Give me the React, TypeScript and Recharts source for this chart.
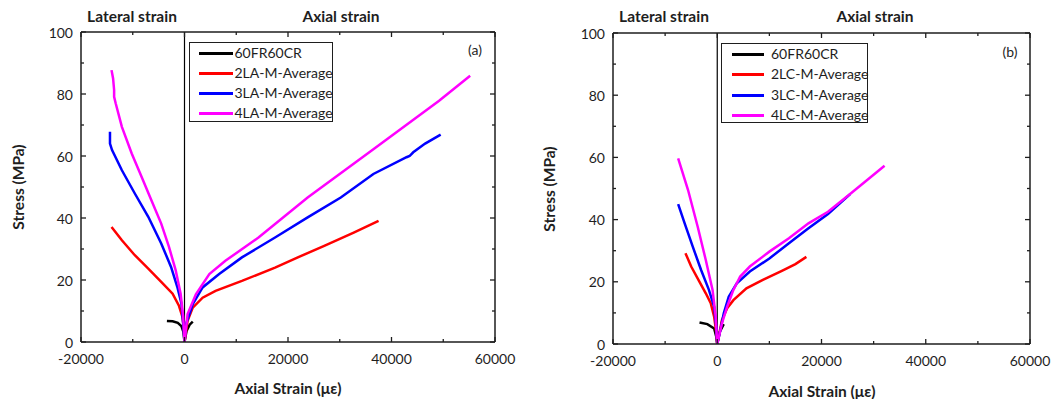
import React from "react"
import { LineChart, Line, XAxis, YAxis, ReferenceLine } from "recharts"

type Pt = [number, number]

// strain (µε), stress (MPa)
// panel (a)
const a60FR60CR: Pt[] = [[-3400, 6.8], [-2300, 6.7], [-1300, 6.2], [-600, 5.1], [-200, 3.2], [0, 0], [400, 3.6], [1000, 5.6], [1600, 6.6]]
const a2LA: Pt[] = [
  [-14100, 37.1], [-12100, 32.8], [-9600, 28.0], [-7000, 23.7], [-4500, 19.4], [-2300, 15.6], [-1100, 11.8], [-400, 8.1], [-100, 3.8], [0, 0],
  [600, 6.8], [1600, 11.1], [3500, 14.3], [6000, 16.5], [11100, 19.7], [17500, 24.0], [21900, 27.3], [27000, 31.0], [32700, 35.3], [37500, 39.1],
]
const a3LA: Pt[] = [
  [-14400, 67.8], [-14400, 64.0], [-14000, 61.9], [-12100, 55.4], [-9600, 47.9], [-7000, 40.4], [-4500, 31.8], [-2600, 24.2], [-1400, 17.8], [-600, 12.4], [-250, 5.9], [0, 0],
  [300, 5.8], [1600, 12.2], [3500, 17.6], [6700, 21.9], [11100, 27.3], [17500, 33.7], [23800, 40.2], [30200, 46.6], [36500, 54.2], [42900, 59.6], [43500, 60.0], [44200, 61.2], [46500, 64.0], [49500, 66.9],
]
const a4LA: Pt[] = [
  [-14100, 87.7], [-13800, 85.0], [-13600, 81.3], [-13600, 79.1], [-13300, 77.0], [-12100, 69.4], [-10200, 60.8], [-8300, 53.3], [-6400, 45.7], [-4500, 38.2], [-3000, 30.7], [-1700, 23.1], [-750, 15.6], [-250, 8.1], [0, 0],
  [600, 9.0], [2200, 15.4], [4800, 21.9], [7900, 26.2], [14300, 33.7], [23800, 46.6], [36500, 62.2], [49200, 77.8], [55200, 85.9],
]

// panel (b)
const b60FR60CR: Pt[] = [[-3400, 6.9], [-1900, 6.4], [-600, 5.0], [-200, 2.4], [0, 0], [500, 4.0], [1250, 6.4]]
const b2LC: Pt[] = [
  [-6100, 29.2], [-5000, 24.9], [-3400, 20.0], [-2200, 16.3], [-1250, 13.1], [-600, 8.8], [-250, 4.5], [0, 0],
  [900, 7.7], [1900, 11.5], [3100, 14.1], [5600, 17.9], [8750, 20.6], [12500, 23.6], [15000, 25.7], [17100, 28.0],
]
const b3LC: Pt[] = [
  [-7500, 45.0], [-6250, 38.8], [-4700, 31.3], [-3100, 23.8], [-1600, 17.4], [-600, 12.0], [-200, 5.6], [0, 0],
  [600, 4.5], [1250, 9.9], [2200, 15.2], [3750, 19.5], [6250, 23.3], [10000, 27.5], [13750, 32.4], [17500, 37.2], [21250, 41.8], [25500, 48.2],
]
const b4LC: Pt[] = [
  [-7500, 59.7], [-5600, 49.5], [-3750, 37.7], [-2200, 27.0], [-900, 17.4], [-300, 8.8], [0, 0],
  [900, 6.6], [1900, 12.0], [3100, 17.4], [4400, 21.7], [6250, 24.9], [10000, 29.7], [13750, 34.0], [17500, 38.8], [21250, 42.5], [25600, 48.4], [32100, 57.3],
]

const xTicks = [-20000, -10000, 0, 10000, 20000, 30000, 40000, 50000, 60000]
const yTicks = [0, 10, 20, 30, 40, 50, 60, 70, 80, 90, 100]
const colors = ["#000000", "#ff0000", "#0000ff", "#ff00ff"]

const FONT = "Lato, 'Open Sans', sans-serif"
const INK = "#1e1e1e"

const toRows = (pts: Pt[]) => pts.map(([e, s]) => ({ e, s }))

const BottomTick = (p: any) => {
  const v = p.payload.value
  const major = v % 20000 === 0
  return (
    <g>
      <line x1={p.x} x2={p.x} y1={p.y} y2={p.y - (major ? 5 : 3)} stroke={INK} strokeWidth={1.3} />
      {major && (
        <text x={p.x} y={p.y + 16} textAnchor="middle" dominantBaseline="central" fontSize={14} fontFamily={FONT} fill={INK}>
          {v}
        </text>
      )}
    </g>
  )
}
const TopTick = (p: any) => {
  const major = p.payload.value % 20000 === 0
  return <line x1={p.x} x2={p.x} y1={p.y} y2={p.y + (major ? 5 : 3)} stroke={INK} strokeWidth={1.3} />
}
const LeftTick = (p: any) => {
  const v = p.payload.value
  const major = v % 20 === 0
  return (
    <g>
      <line x1={p.x} x2={p.x + (major ? 5 : 3)} y1={p.y} y2={p.y} stroke={INK} strokeWidth={1.3} />
      {major && (
        <text x={p.x - 8} y={p.y} textAnchor="end" dominantBaseline="central" fontSize={14} fontFamily={FONT} fill={INK}>
          {v}
        </text>
      )}
    </g>
  )
}
const RightTick = (p: any) => {
  const major = p.payload.value % 20 === 0
  return <line x1={p.x} x2={p.x - (major ? 5 : 3)} y1={p.y} y2={p.y} stroke={INK} strokeWidth={1.3} />
}

function Txt({ x, y, children, bold, size = 15.5, rotate }: { x: number; y: number; children: React.ReactNode; bold?: boolean; size?: number; rotate?: boolean }) {
  return (
    <div
      style={{
        position: "absolute",
        left: x,
        top: y,
        transform: `translate(-50%, -50%)${rotate ? " rotate(-90deg)" : ""}`,
        whiteSpace: "nowrap",
        fontWeight: bold ? 700 : 400,
        fontSize: size,
        fontFamily: FONT,
        color: INK,
        lineHeight: 1,
      }}
    >
      {children}
    </div>
  )
}

function Panel({
  left,
  margin,
  series,
  names,
  tag,
  legend,
  titles,
}: {
  left: number
  margin: { top: number; right: number; bottom: number; left: number }
  series: Pt[][]
  names: string[]
  tag: { text: string; x: number; y: number }
  legend: { x: number; y: number; w: number; h: number; l0: number; l1: number; tx: number; rows: number[] }
  titles: { lat: number; ax: number; ty: number; ylab: [number, number]; xlab: [number, number] }
}) {
  // axes take fixed room; margins make up the rest of the plot offset
  const m = { top: margin.top - 10, right: margin.right - 10, bottom: margin.bottom - 20, left: margin.left - 30 }
  return (
    <div style={{ position: "absolute", left, top: 0, width: 531, height: 399 }}>
      <LineChart width={531} height={399} margin={m}>
        <XAxis
          xAxisId="b"
          type="number"
          dataKey="e"
          domain={[-20000, 60000]}
          ticks={xTicks}
          allowDataOverflow
          height={20}
          tickSize={0}
          tickMargin={0}
          tick={BottomTick}
          axisLine={{ stroke: INK, strokeWidth: 1.5 }}
          interval={0}
        />
        <XAxis
          xAxisId="t"
          orientation="top"
          type="number"
          dataKey="e"
          domain={[-20000, 60000]}
          ticks={xTicks}
          allowDataOverflow
          height={10}
          tickSize={0}
          tickMargin={0}
          tick={TopTick}
          axisLine={{ stroke: INK, strokeWidth: 1.5 }}
          interval={0}
        />
        <YAxis
          yAxisId="l"
          type="number"
          domain={[0, 100]}
          ticks={yTicks}
          allowDataOverflow
          width={30}
          tickSize={0}
          tickMargin={0}
          tick={LeftTick}
          axisLine={{ stroke: INK, strokeWidth: 1.5 }}
          interval={0}
        />
        <YAxis
          yAxisId="r"
          orientation="right"
          type="number"
          domain={[0, 100]}
          ticks={yTicks}
          allowDataOverflow
          width={10}
          tickSize={0}
          tickMargin={0}
          tick={RightTick}
          axisLine={{ stroke: INK, strokeWidth: 1.5 }}
          interval={0}
        />
        <ReferenceLine xAxisId="b" yAxisId="l" x={0} stroke="#000" strokeWidth={1.2} />
        {series.map((pts, i) => (
          <Line
            key={names[i]}
            xAxisId="b"
            yAxisId="l"
            data={toRows(pts)}
            dataKey="s"
            type="linear"
            stroke={colors[i]}
            strokeWidth={2.5}
            dot={false}
            activeDot={false}
            isAnimationActive={false}
          />
        ))}
      </LineChart>

      <Txt x={titles.lat} y={titles.ty} bold>Lateral strain</Txt>
      <Txt x={titles.ax} y={titles.ty} bold>Axial strain</Txt>
      <Txt x={titles.ylab[0]} y={titles.ylab[1]} bold rotate>Stress (MPa)</Txt>
      <Txt x={titles.xlab[0]} y={titles.xlab[1]} bold>Axial Strain (με)</Txt>
      <Txt x={tag.x} y={tag.y} size={14}>{tag.text}</Txt>

      <div
        style={{
          position: "absolute",
          left: legend.x,
          top: legend.y,
          width: legend.w,
          height: legend.h,
          border: `1px solid ${INK}`,
          boxSizing: "border-box",
          background: "#fff",
        }}
      >
        {names.map((n, i) => (
          <div key={n}>
            <div
              style={{
                position: "absolute",
                left: legend.l0,
                width: legend.l1 - legend.l0,
                top: legend.rows[i] - 1,
                height: 2.5,
                background: colors[i],
              }}
            />
            <div
              style={{
                position: "absolute",
                left: legend.tx,
                top: legend.rows[i],
                transform: "translateY(-50%)",
                fontFamily: FONT,
                fontSize: 14,
                color: INK,
                whiteSpace: "nowrap",
                lineHeight: 1,
              }}
            >
              {n}
            </div>
          </div>
        ))}
      </div>
    </div>
  )
}

export default function App() {
  return (
    <div style={{ position: "absolute", left: 0, top: 0, width: 1062, height: 399, background: "#fff", overflow: "hidden" }}>
      <Panel
        left={0}
        margin={{ top: 32, right: 36, bottom: 57, left: 81 }}
        series={[a60FR60CR, a2LA, a3LA, a4LA]}
        names={["60FR60CR", "2LA-M-Average", "3LA-M-Average", "4LA-M-Average"]}
        tag={{ text: "(a)", x: 475, y: 50 }}
        legend={{ x: 189, y: 42, w: 144, h: 80, l0: 9, l1: 43, tx: 44.5, rows: [10, 30, 50, 70] }}
        titles={{ lat: 132, ax: 341, ty: 17, ylab: [19, 187], xlab: [288, 389] }}
      />
      <Panel
        left={531}
        margin={{ top: 33, right: 32, bottom: 55, left: 82 }}
        series={[b60FR60CR, b2LC, b3LC, b4LC]}
        names={["60FR60CR", "2LC-M-Average", "3LC-M-Average", "4LC-M-Average"]}
        tag={{ text: "(b)", x: 479, y: 52 }}
        legend={{ x: 190, y: 43, w: 147, h: 80, l0: 10, l1: 42, tx: 49, rows: [10, 30, 51, 71] }}
        titles={{ lat: 133, ax: 344, ty: 17, ylab: [19, 189], xlab: [291, 392] }}
      />
    </div>
  )
}
